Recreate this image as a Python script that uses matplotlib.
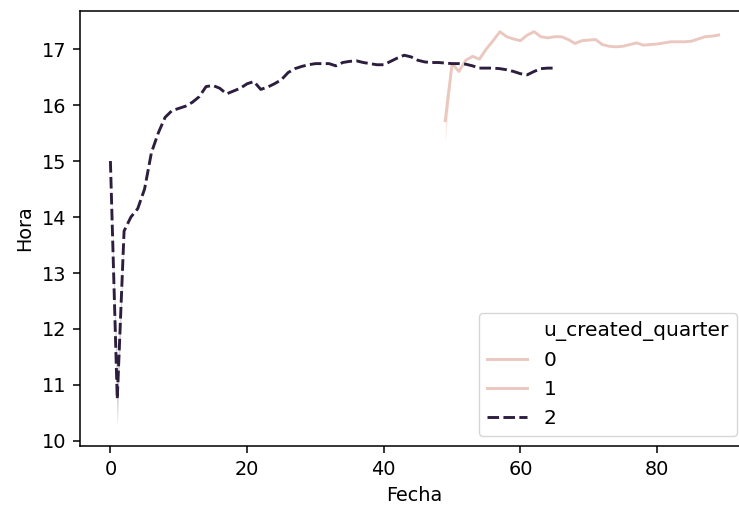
import numpy as np
import matplotlib
matplotlib.use("Agg")
import matplotlib.pyplot as plt
from matplotlib.lines import Line2D

# todo el estilo por defecto escalado x1.39
k = 1.39
plt.rcParams.update({
    'font.family': ['DejaVu Sans'],
    'font.size': 10 * k,
    'lines.linewidth': 1.5 * k,
    'axes.linewidth': 0.8 * k,
    'axes.labelpad': 4.0 * k,
    'xtick.major.size': 3.5 * k,
    'ytick.major.size': 3.5 * k,
    'xtick.major.width': 0.8 * k,
    'ytick.major.width': 0.8 * k,
    'xtick.major.pad': 3.5 * k,
    'ytick.major.pad': 3.5 * k,
})

# hora media por fecha, trimestre 2 (linea discontinua)
fecha_q2 = list(range(0, 66))
hora_q2 = [15.0, 10.75, 13.75, 14.0, 14.15, 14.5, 15.15, 15.5, 15.78, 15.9,
           15.94, 15.98, 16.05, 16.15, 16.33, 16.35, 16.3, 16.2, 16.25, 16.3,
           16.38, 16.42, 16.28, 16.32, 16.38, 16.45, 16.58, 16.65, 16.69, 16.72,
           16.74, 16.74, 16.74, 16.7, 16.76, 16.78, 16.79, 16.76, 16.74, 16.72,
           16.72, 16.78, 16.84, 16.89, 16.86, 16.8, 16.77, 16.76, 16.76, 16.75,
           16.74, 16.74, 16.73, 16.7, 16.66, 16.66, 16.66, 16.65, 16.63, 16.6,
           16.56, 16.54, 16.6, 16.65, 16.66, 16.66]

# trimestre 1
fecha_q1 = list(range(49, 90))
hora_q1 = [15.72, 16.74, 16.6, 16.8, 16.87, 16.82, 17.0, 17.15, 17.31, 17.22,
           17.18, 17.15, 17.25, 17.31, 17.22, 17.2, 17.22, 17.22, 17.17, 17.1,
           17.15, 17.16, 17.17, 17.08, 17.05, 17.04, 17.05, 17.08, 17.11, 17.07,
           17.08, 17.09, 17.11, 17.13, 17.13, 17.13, 17.14, 17.18, 17.22, 17.23,
           17.25]

# intervalos de confianza visibles al inicio de cada serie
ci_q2_x = [0, 1, 2]
ci_q2_low = [15.0, 10.27, 13.7]
ci_q2_high = [15.0, 11.25, 13.8]
ci_q1_x = [49, 50]
ci_q1_low = [15.35, 16.7]
ci_q1_high = [16.1, 16.78]

quarters = ['0', '1', '2']
color_light = '#ebc8bf'
color_dark = '#2d1e3e'
dash = (4, 1.5)

fig = plt.figure(figsize=(7.39, 5.08), dpi=100)
# el eje llega un poco mas alla del borde derecho
ax = fig.add_axes([80/739, (508-446)/508, 669/739, 435/508])

ax.fill_between(ci_q2_x, ci_q2_low, ci_q2_high, color=color_dark, alpha=0.2, lw=0)
ax.fill_between(ci_q1_x, ci_q1_low, ci_q1_high, color=color_light, alpha=0.4, lw=0)
ax.plot(fecha_q1, hora_q1, color=color_light)
ax.plot(fecha_q2, hora_q2, color=color_dark, dashes=dash)

ax.set_xlim(-4.45, 93.45)
ax.set_ylim(9.91, 17.68)
ax.set_xticks([0, 20, 40, 60, 80])
ax.set_yticks(range(10, 18))
ax.set_xlabel('Fecha')
ax.set_ylabel('Hora')

handles = [Line2D([], [], color='none'),
           Line2D([], [], color=color_light),
           Line2D([], [], color=color_light),
           Line2D([], [], color=color_dark, dashes=dash)]
labels = ['u_created_quarter'] + quarters
ax.legend(handles, labels, loc='lower right', fontsize=14.5,
          bbox_to_anchor=(0.982, 0.023), borderaxespad=0)

fig.savefig('out.png', dpi=100)
